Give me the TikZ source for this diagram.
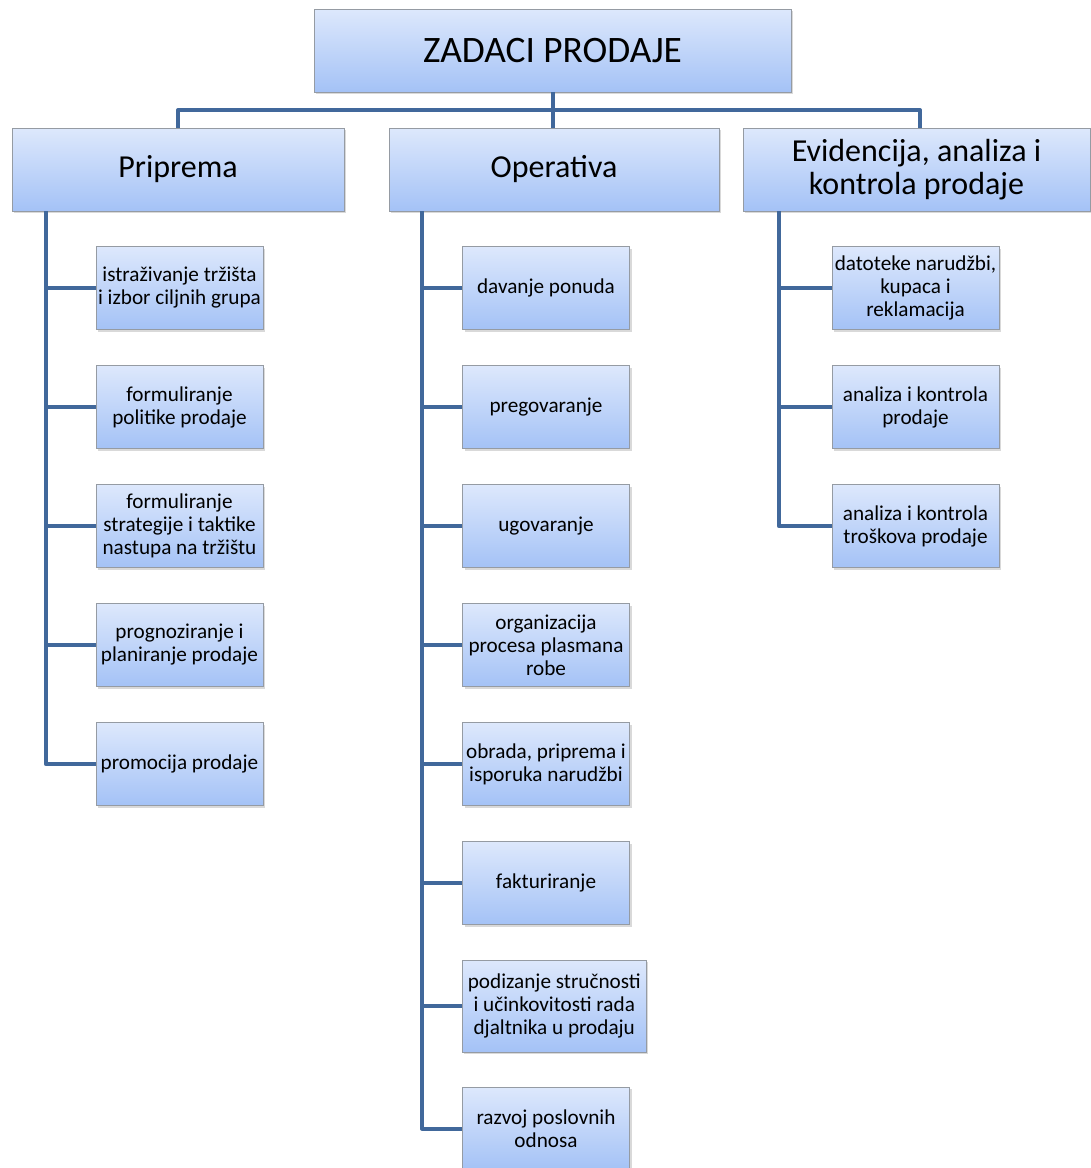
\documentclass[tikz,border=0pt]{standalone}
\usepackage{fontspec}
\setmainfont{Carlito}
\usepackage{tikz}
\usetikzlibrary{shadows,positioning}
\definecolor{linkblue}{HTML}{41689B}
\definecolor{boxtop}{HTML}{DDE8FC}
\definecolor{boxbot}{HTML}{A4C2F6}
\definecolor{boxline}{HTML}{959BA3}

\begin{document}
\begin{tikzpicture}[x=0.75pt,y=-0.75pt,node distance=89.25pt]
	\tikzstyle{box}=[rectangle, draw=boxline, thin, top color=boxtop, bottom color=boxbot, drop shadow={shadow xshift=1.5pt, shadow yshift=-1.5pt, opacity=0.3}, align=center, inner sep=1pt]
	\tikzstyle{root}=[box, minimum width=357.75pt, minimum height=62.25pt, font=\fontsize{28}{32}\selectfont]
	\tikzstyle{group}=[box, minimum height=62.25pt, font=\fontsize{24}{24.75}\selectfont]
	\tikzstyle{task}=[box, inner xsep=0pt, minimum width=125.25pt, minimum height=62.25pt, font=\fontsize{15.9}{17.25}\selectfont]
	\tikzstyle{link}=[draw=linkblue, line width=3pt, line join=round]

	\useasboundingbox (0,0) rectangle (1091,1168);

	% top and the three groups
	\node [root] (zadaci) at (552.5,50.5) {ZADACI PRODAJE};
	\node [group, minimum width=249pt] (prip) at (178,169.5) {Priprema};
	\node [group, minimum width=247.5pt] (oper) at (554,169.5) {Operativa};
	\node [group, minimum width=260.25pt] (evid) at (916.5,169.5) {Evidencija, analiza i\\kontrola prodaje};
	\coordinate (bus) at (552.5,110);

	% Priprema
	\node [task] (p1) at (179.5,288) {istraživanje tržišta\\i izbor ciljnih grupa};
	\node [task] (p2) [below of=p1] {formuliranje\\politike prodaje};
	\node [task] (p3) [below of=p2] {formuliranje\\strategije i taktike\\nastupa na tržištu};
	\node [task] (p4) [below of=p3] {prognoziranje i\\planiranje prodaje};
	\node [task] (p5) [below of=p4] {promocija prodaje};

	% Operativa
	\node [task] (o1) at (546,288) {davanje ponuda};
	\node [task] (o2) [below of=o1] {pregovaranje};
	\node [task] (o3) [below of=o2] {ugovaranje};
	\node [task] (o4) [below of=o3] {organizacija\\procesa plasmana\\robe};
	\node [task] (o5) [below of=o4] {obrada, priprema i\\isporuka narudžbi};
	\node [task] (o6) [below of=o5] {fakturiranje};
	\node [task, minimum width=138pt, minimum height=69pt, anchor=west] (o7) at (462,1006) {podizanje stručnosti\\i učinkovitosti rada\\djaltnika u prodaju};
	\node [task] (o8) at (546,1128.5) {razvoj poslovnih\\odnosa};

	% Evidencija
	\node [task] (e1) at (915.5,288) {datoteke narudžbi,\\kupaca i\\reklamacija};
	\node [task] (e2) [below of=e1] {analiza i kontrola\\prodaje};
	\node [task] (e3) [below of=e2] {analiza i kontrola\\troškova prodaje};

	% connectors
	\draw [link] (zadaci.south) -- (zadaci.south |- oper.north);
	\draw [link] (prip.north) -- (prip.north |- bus) -- ([xshift=2.6pt]evid.north |- bus) -- ([xshift=2.6pt]evid.north);

	\coordinate (pspine) at ([xshift=25.5pt]prip.south west);
	\coordinate (ospine) at ([xshift=24.75pt]oper.south west);
	\coordinate (espine) at ([xshift=27pt]evid.south west);

	\draw [link] (pspine) |- (p5.west);
	\foreach \t in {p1,p2,p3,p4}
		\draw [link] (\t.west) -- (\t.west -| pspine);
	\draw [link] (ospine) |- (o8.west);
	\foreach \t in {o1,o2,o3,o4,o5,o6,o7}
		\draw [link] (\t.west) -- (\t.west -| ospine);
	\draw [link] (espine) |- (e3.west);
	\foreach \t in {e1,e2}
		\draw [link] (\t.west) -- (\t.west -| espine);
\end{tikzpicture}
\end{document}
